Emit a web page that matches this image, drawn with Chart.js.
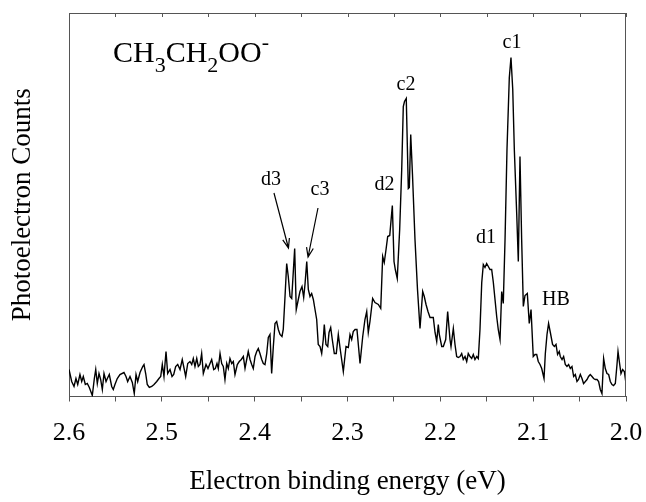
<!DOCTYPE html>
<html><head><meta charset="utf-8">
<style>html,body{margin:0;padding:0;background:#fff}#wrap{width:646px;height:502px}</style>
<script src="https://cdn.jsdelivr.net/npm/chart.js@4.4.0/dist/chart.umd.min.js"></script>
</head><body><div id="wrap"><canvas id="c" width="646" height="502"></canvas></div>
<script>
// Electron binding energy (eV)
const energies = [
2.6000,2.5971,2.5946,2.5925,2.5906,2.5882,2.5863,2.5846,2.5824,2.5803,
2.5781,2.5749,2.5727,2.5712,2.5695,2.5677,2.5659,2.5641,2.5623,2.5601,
2.5587,2.5566,2.5540,2.5523,2.5505,2.5480,2.5451,2.5408,2.5386,2.5368,
2.5343,2.5318,2.5297,2.5278,2.5260,2.5235,2.5206,2.5192,2.5174,2.5157,
2.5135,2.5109,2.5084,2.5055,2.5031,2.5012,2.4995,2.4977,2.4955,2.4937,
2.4912,2.4890,2.4872,2.4851,2.4829,2.4804,2.4780,2.4758,2.4743,2.4721,
2.4697,2.4678,2.4661,2.4643,2.4624,2.4607,2.4589,2.4571,2.4553,2.4524,
2.4503,2.4481,2.4463,2.4441,2.4424,2.4406,2.4392,2.4373,2.4355,2.4338,
2.4320,2.4301,2.4284,2.4266,2.4247,2.4230,2.4212,2.4187,2.4166,2.4144,
2.4122,2.4104,2.4086,2.4069,2.4050,2.4032,2.4015,2.3996,2.3978,2.3961,
2.3943,2.3924,2.3907,2.3889,2.3870,2.3853,2.3835,2.3817,2.3799,2.3781,
2.3763,2.3745,2.3727,2.3706,2.3692,2.3673,2.3655,2.3638,2.3619,2.3601,
2.3569,2.3552,2.3530,2.3512,2.3490,2.3472,2.3458,2.3439,2.3422,2.3404,
2.3386,2.3368,2.3350,2.3332,2.3315,2.3296,2.3278,2.3261,2.3250,2.3232,
2.3213,2.3199,2.3181,2.3164,2.3142,2.3121,2.3099,2.3078,2.3045,2.3016,
2.2991,2.2973,2.2955,2.2938,2.2919,2.2898,2.2865,2.2836,2.2812,2.2793,
2.2776,2.2758,2.2729,2.2704,2.2668,2.2642,2.2621,2.2604,2.2585,2.2567,
2.2545,2.2517,2.2499,2.2485,2.2464,2.2438,2.2416,2.2399,2.2386,2.2367,
2.2345,2.2334,2.2319,2.2300,2.2273,2.2246,2.2219,2.2190,2.2173,2.2154,
2.2133,2.2111,2.2093,2.2076,2.2057,2.2039,2.2022,2.2011,2.1985,2.1968,
2.1942,2.1921,2.1896,2.1885,2.1860,2.1842,2.1824,2.1806,2.1788,2.1770,
2.1753,2.1734,2.1716,2.1699,2.1680,2.1662,2.1645,2.1627,2.1608,2.1591,
2.1573,2.1554,2.1537,2.1519,2.1501,2.1483,2.1465,2.1447,2.1429,2.1411,
2.1393,2.1376,2.1357,2.1339,2.1322,2.1303,2.1282,2.1257,2.1239,2.1220,
2.1203,2.1177,2.1160,2.1142,2.1124,2.1106,2.1088,2.1063,2.1042,2.1023,
2.0999,2.0980,2.0962,2.0945,2.0926,2.0908,2.0883,2.0869,2.0851,2.0834,
2.0815,2.0791,2.0772,2.0754,2.0737,2.0719,2.0708,2.0689,2.0672,2.0654,
2.0636,2.0618,2.0600,2.0582,2.0564,2.0546,2.0528,2.0511,2.0492,2.0474,
2.0457,2.0438,2.0420,2.0403,2.0385,2.0366,2.0349,2.0331,2.0312,2.0295,
2.0277,2.0259,2.0241,2.0223,2.0205,2.0187,2.0169,2.0151,2.0134,2.0115,
2.0097,2.0086,2.0069,2.0054,2.0036,2.0018,2.0003
];
// Photoelectron counts (arbitrary units)
const counts = [
27,15,10,18,12,22,15,20,12,13,
9,1,18,27,13,23,17,7,23,15,
18,22,10,7,12,18,22,24,20,15,
20,14,3,22,15,24,30,32,23,12,
9,10,12,15,18,20,32,20,45,23,
27,20,22,30,32,27,37,27,20,33,
35,32,38,30,38,30,32,43,23,32,
28,33,37,27,28,33,28,43,33,30,
17,33,28,38,33,35,22,32,35,37,
40,28,37,45,37,32,28,40,45,48,
43,37,33,32,43,59,62,23,50,73,
75,67,62,60,67,100,133,120,100,98,
148,87,97,105,110,99,112,135,107,100,
103,97,87,77,52,50,43,57,72,52,
50,64,69,57,43,43,62,47,25,50,
49,62,57,65,67,67,33,60,77,85,
64,75,98,94,92,88,140,134,147,160,
161,191,135,127,118,167,227,290,295,298,
208,209,262,222,157,107,68,105,100,92,
85,79,79,79,64,55,72,62,50,50,
57,85,57,50,68,52,40,39,40,43,
37,40,35,43,40,38,42,37,40,38,
67,114,132,129,133,130,127,127,114,97,
80,67,57,105,93,157,247,319,339,307,
247,182,135,240,157,90,101,103,73,87,
40,42,42,35,32,28,18,43,62,73,
64,52,50,52,42,45,40,37,40,32,
30,32,28,30,20,22,15,17,22,18,
13,15,17,20,22,20,18,17,17,15,
7,3,38,28,23,22,15,12,11,13,
32,45,33,23,27,25,15
];
const xMin = 2.0, xMax = 2.6, xStep = 0.05;
const yMin = 0, yMax = 383.5;

// peak annotations (text, energy, counts)
const peakNames = ['c1','c2','c3','d1','d2','d3','HB'];
const peakNameE = [2.1228,2.2370,2.3296,2.1508,2.2601,2.3824,2.0754];
const peakNameC = [353.5,311.5,206.5,158.5,211.5,216.5,96.5];
// arrows: from (E,C) to (E,C)
const arrowFromE = [2.3792,2.3318];
const arrowFromC = [203.5,188.5];
const arrowToE = [2.3636,2.3425];
const arrowToC = [148.5,139.5];
const formulaE = 2.5526, formulaC = 334.5;

const SERIF = '"Liberation Serif","DejaVu Serif",serif';
const AXIS_COLOR = '#555';

const points = energies.map((e,i)=>({x:e,y:counts[i]}));

const decor = {
  id:'decor',
  afterDraw(chart){
    const {ctx, chartArea:a, scales:{x,y}} = chart;
    ctx.save();
    // top & right frame
    ctx.strokeStyle = AXIS_COLOR; ctx.lineWidth = 1;
    ctx.beginPath();
    ctx.moveTo(a.left, a.top+0.5); ctx.lineTo(a.right+0.5, a.top+0.5);
    ctx.moveTo(a.right-0.5, a.top); ctx.lineTo(a.right-0.5, a.bottom);
    // inward top ticks
    x.ticks.forEach(t=>{
      const px = Math.round(x.getPixelForValue(t.value))+0.5;
      ctx.moveTo(px, a.top); ctx.lineTo(px, a.top+4);
    });
    ctx.stroke();
    // peak labels
    ctx.fillStyle = '#000';
    ctx.font = '20px '+SERIF;
    ctx.textAlign = 'center'; ctx.textBaseline = 'middle';
    peakNames.forEach((n,i)=>{
      ctx.fillText(n, x.getPixelForValue(peakNameE[i]), y.getPixelForValue(peakNameC[i]));
    });
    // arrows
    ctx.strokeStyle = '#000'; ctx.lineWidth = 1.2;
    arrowFromE.forEach((e,i)=>{
      const x0 = x.getPixelForValue(e), y0 = y.getPixelForValue(arrowFromC[i]);
      const x1 = x.getPixelForValue(arrowToE[i]), y1 = y.getPixelForValue(arrowToC[i]);
      const ang = Math.atan2(y1-y0, x1-x0);
      const L = 10, spread = 0.35;
      ctx.beginPath();
      ctx.moveTo(x0,y0); ctx.lineTo(x1,y1);
      ctx.moveTo(x1 - L*Math.cos(ang-spread), y1 - L*Math.sin(ang-spread));
      ctx.lineTo(x1,y1);
      ctx.lineTo(x1 - L*Math.cos(ang+spread), y1 - L*Math.sin(ang+spread));
      ctx.stroke();
    });
    // formula CH3CH2OO-
    const parts = [['CH',0,30],['3',10,22],['CH',0,30],['2',10,22],['OO',0,30],['-',-13,22]];
    let fx = x.getPixelForValue(formulaE);
    const fy = y.getPixelForValue(formulaC);
    ctx.textAlign = 'left'; ctx.textBaseline = 'alphabetic';
    parts.forEach(([t,dy,sz])=>{
      ctx.font = sz+'px '+SERIF;
      ctx.fillText(t, fx, fy+dy);
      fx += ctx.measureText(t).width;
    });
    ctx.restore();
  }
};

new Chart(document.getElementById('c'), {
  type:'scatter',
  data:{datasets:[{data:points, showLine:true, borderColor:'#000', borderWidth:1.4,
    pointRadius:0, tension:0, fill:false}]},
  options:{
    responsive:false, animation:false,
    layout:{padding:{top:13,right:20,left:0,bottom:0}},
    plugins:{legend:{display:false}, tooltip:{enabled:false}},
    scales:{
      x:{type:'linear', reverse:true, min:xMin, max:xMax,
        afterFit(s){ s.height = 105.5; s.paddingLeft = 0; s.paddingRight = 0; },
        ticks:{stepSize:xStep, autoSkip:false, maxRotation:0, padding:16, color:'#000',
          font:{family:SERIF, size:26},
          callback(v){ const k=Math.round(v*100); return k%10===0 ? (k/100).toFixed(1) : ''; }},
        grid:{drawOnChartArea:false, drawTicks:true, tickLength:5, color:AXIS_COLOR},
        border:{display:true, color:AXIS_COLOR},
        title:{display:true, text:'Electron binding energy (eV)', color:'#000',
          font:{family:SERIF, size:27}, padding:{top:0,bottom:4}}
      },
      y:{min:yMin, max:yMax,
        afterFit(s){ s.width = 69; },
        ticks:{display:false},
        grid:{display:false},
        border:{display:true, color:AXIS_COLOR},
        title:{display:true, text:'Photoelectron Counts', color:'#000',
          font:{family:SERIF, size:27}, padding:{top:7,bottom:0}}
      }
    }
  },
  plugins:[decor]
});
</script>
</body></html>
